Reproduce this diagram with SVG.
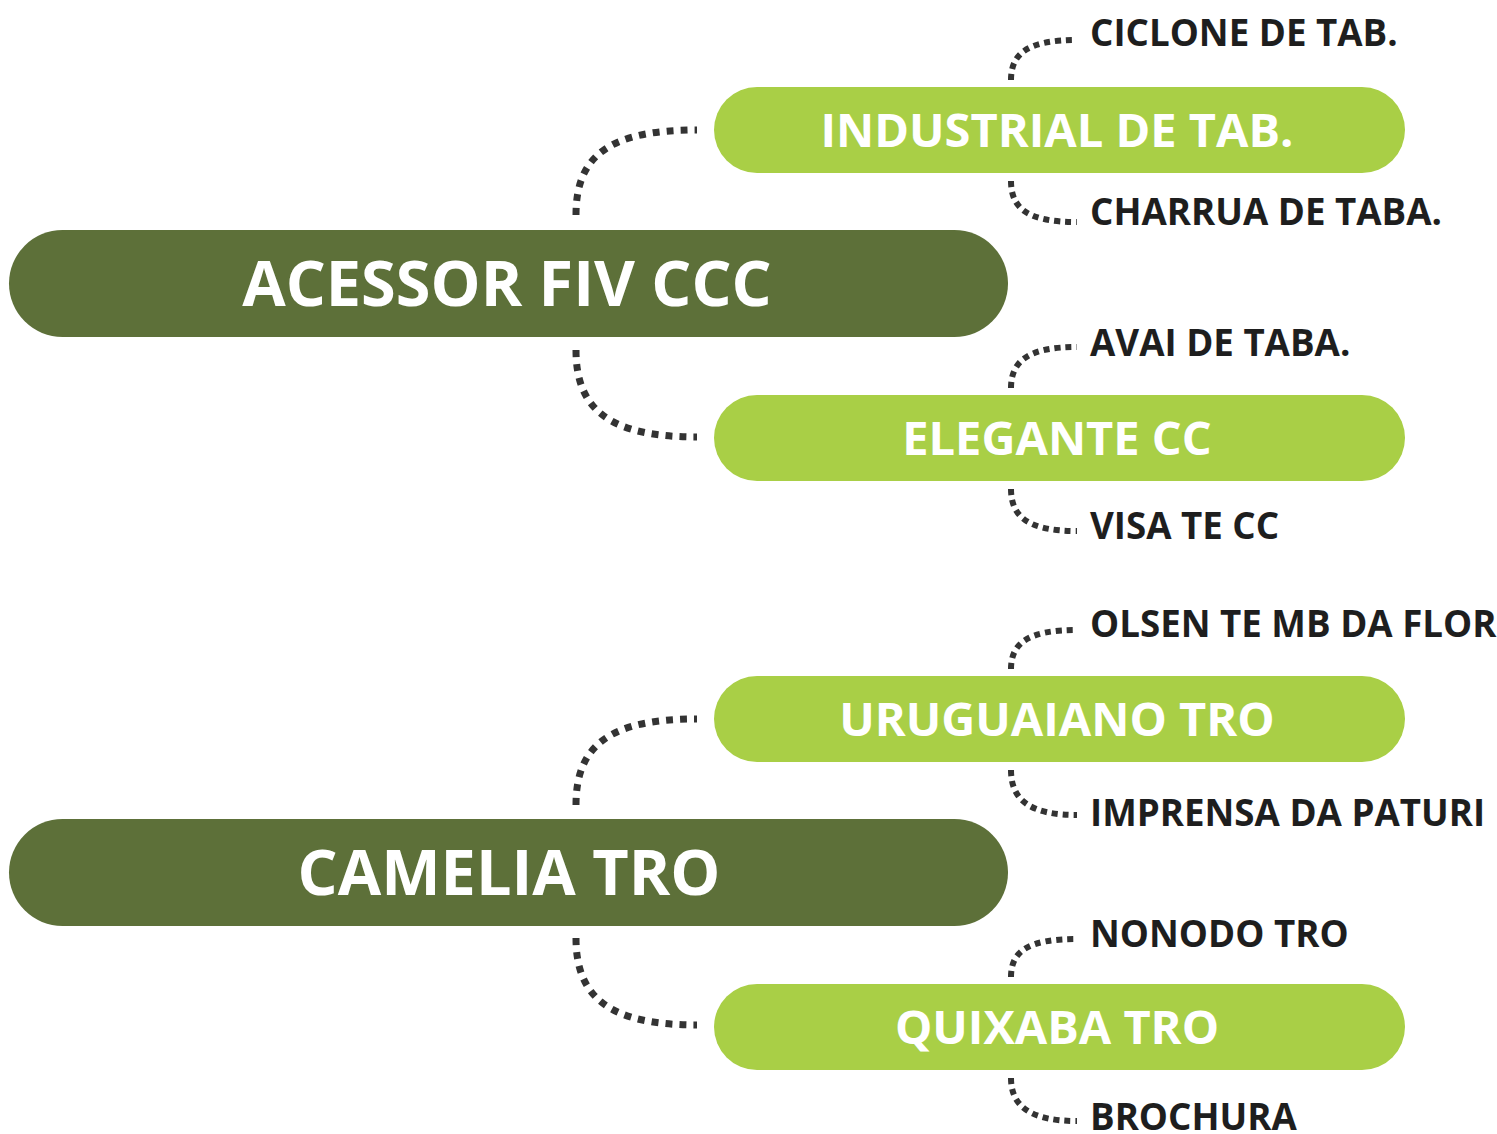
<svg xmlns="http://www.w3.org/2000/svg" width="1497" height="1134" viewBox="0 0 1497 1134">
<style>
.dark{fill:#5d7039}
.light{fill:#a9cf46}
.t{font-family:"Open Sans","Liberation Sans",sans-serif;font-weight:700}
.big{font-size:63px;fill:#fff;text-anchor:middle}
.mid{font-size:47px;fill:#fff;text-anchor:middle}
.sm{font-size:36.7px;fill:#1e1e1e}
.c1{fill:none;stroke:#333;stroke-width:7;stroke-dasharray:7 7}
.c2{fill:none;stroke:#333;stroke-width:6;stroke-dasharray:6 5}
</style>
<g id="connectors">
<path class="c1" d="M576,215 C576,155 610,130 697,130"/>
<path class="c1" d="M576,350 C576,410 610,437 697,437"/>
<path class="c1" d="M576,805 C576,745 610,719 697,719"/>
<path class="c1" d="M576,938 C576,998 610,1025 697,1025"/>
<path class="c2" d="M1011,80 C1011,52 1030,40 1077,40"/>
<path class="c2" d="M1011,181 C1011,210 1030,222 1077,222"/>
<path class="c2" d="M1011,388 C1011,360 1030,347 1077,347"/>
<path class="c2" d="M1011,489 C1011,518 1030,531 1077,531"/>
<path class="c2" d="M1011,669 C1011,642 1030,630 1077,630"/>
<path class="c2" d="M1011,770 C1011,800 1030,815 1077,815"/>
<path class="c2" d="M1011,977 C1011,950 1030,939 1077,939"/>
<path class="c2" d="M1011,1078 C1011,1106 1030,1121 1077,1121"/>
</g>
<g id="acessor">
<rect class="dark" x="9" y="230" width="999" height="107" rx="53.5"/>
<text class="t big" x="507" y="306">ACESSOR FIV CCC</text>
</g>
<g id="camelia">
<rect class="dark" x="9" y="819" width="999" height="107" rx="53.5"/>
<text class="t big" x="509" y="895">CAMELIA TRO</text>
</g>
<g id="industrial">
<rect class="light" x="714" y="87" width="691" height="86" rx="43"/>
<text class="t mid" x="1057" y="147">INDUSTRIAL DE TAB.</text>
</g>
<g id="elegante">
<rect class="light" x="714" y="395" width="691" height="86" rx="43"/>
<text class="t mid" x="1057" y="455">ELEGANTE CC</text>
</g>
<g id="uruguaiano">
<rect class="light" x="714" y="676" width="691" height="86" rx="43"/>
<text class="t mid" x="1057" y="736">URUGUAIANO TRO</text>
</g>
<g id="quixaba">
<rect class="light" x="714" y="984" width="691" height="86" rx="43"/>
<text class="t mid" x="1057" y="1044">QUIXABA TRO</text>
</g>
<g id="ciclone"><text class="t sm" x="1090" y="46">CICLONE DE TAB.</text></g>
<g id="charrua"><text class="t sm" x="1090" y="225">CHARRUA DE TABA.</text></g>
<g id="avai"><text class="t sm" x="1090" y="356">AVAI DE TABA.</text></g>
<g id="visa"><text class="t sm" x="1090" y="539">VISA TE CC</text></g>
<g id="olsen"><text class="t sm" x="1090" y="637">OLSEN TE MB DA FLOR</text></g>
<g id="imprensa"><text class="t sm" x="1090" y="826">IMPRENSA DA PATURI</text></g>
<g id="nonodo"><text class="t sm" x="1090" y="947">NONODO TRO</text></g>
<g id="brochura"><text class="t sm" x="1090" y="1130">BROCHURA</text></g>
</svg>
